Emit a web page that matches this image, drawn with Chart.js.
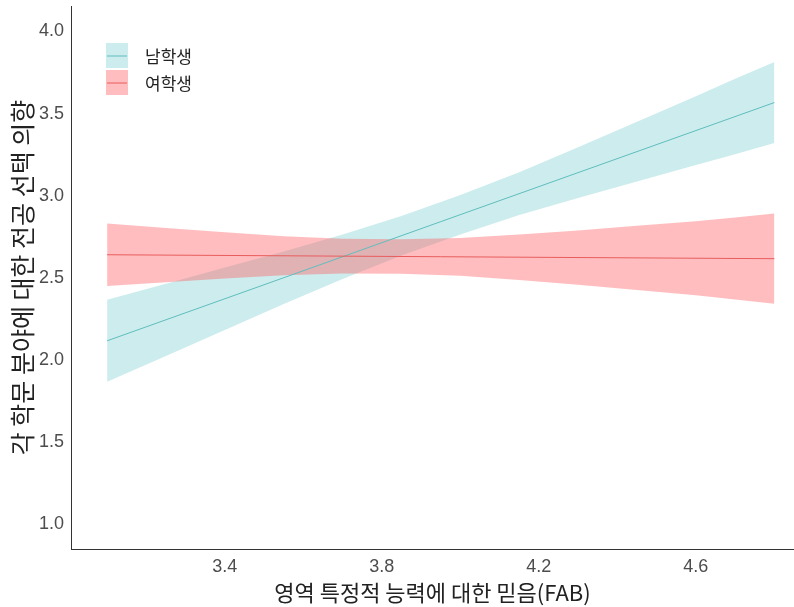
<!DOCTYPE html>
<html>
<head>
<meta charset="utf-8">
<script src="https://cdn.jsdelivr.net/npm/chart.js@4.4.1/dist/chart.umd.min.js"></script>
<style>
  html, body { margin: 0; padding: 0; background: #ffffff; overflow: hidden; }
  #wrap { width: 794px; height: 607px; position: relative; }
</style>
</head>
<body>
<div id="wrap"><canvas id="c" width="794" height="607"></canvas></div>
<script>
// Predicted major-choice intention by FAB, with confidence bands
const seriesNames = ['남학생', '여학생'];

const xTicks = [3.4, 3.8, 4.2, 4.6];
const yTicks = [1.0, 1.5, 2.0, 2.5, 3.0, 3.5, 4.0];

// FAB positions where the band edges are given
const fab = [3.1, 3.25, 3.4, 3.55, 3.7, 3.85, 4.0, 4.15, 4.3, 4.45, 4.6, 4.7, 4.8];

// 남학생: fitted line end points and band edges
const maleFitX = [3.1, 4.8];
const maleFit = [2.116, 3.567];
const maleUpper = [2.366, 2.464, 2.562, 2.660, 2.763, 2.876, 3.004, 3.142, 3.295, 3.450, 3.606, 3.712, 3.814];
const maleLower = [1.866, 2.024, 2.182, 2.340, 2.493, 2.636, 2.764, 2.882, 2.985, 3.086, 3.186, 3.252, 3.320];

// 여학생: fitted line end points and band edges
const femaleFitX = [3.1, 4.8];
const femaleFit = [2.640, 2.616];
const femaleUpper = [2.830, 2.803, 2.777, 2.752, 2.738, 2.734, 2.742, 2.763, 2.788, 2.816, 2.844, 2.867, 2.891];
const femaleLower = [2.450, 2.473, 2.495, 2.515, 2.526, 2.524, 2.512, 2.487, 2.458, 2.426, 2.394, 2.367, 2.341];

const teal = { line: '#5fbdbd', fill: 'rgba(0,160,165,0.2)' };
const red  = { line: '#e85c5c', fill: 'rgba(255,90,95,0.4)' };

const pts = (xs, ys) => xs.map((x, i) => ({ x: x, y: ys[i] }));

const bandStyle = { borderWidth: 0, pointRadius: 0, showLine: true, tension: 0 };

const datasets = [
  Object.assign({ label: seriesNames[1] + ' upper', data: pts(fab, femaleUpper), fill: '+1', backgroundColor: red.fill, borderColor: 'rgba(0,0,0,0)' }, bandStyle),
  Object.assign({ label: seriesNames[1] + ' lower', data: pts(fab, femaleLower), fill: false, borderColor: 'rgba(0,0,0,0)' }, bandStyle),
  Object.assign({ label: seriesNames[0] + ' upper', data: pts(fab, maleUpper), fill: '+1', backgroundColor: teal.fill, borderColor: 'rgba(0,0,0,0)' }, bandStyle),
  Object.assign({ label: seriesNames[0] + ' lower', data: pts(fab, maleLower), fill: false, borderColor: 'rgba(0,0,0,0)' }, bandStyle),
  { label: seriesNames[1], data: pts(femaleFitX, femaleFit), showLine: true, fill: false, borderColor: red.line, borderWidth: 1, pointRadius: 0 },
  { label: seriesNames[0], data: pts(maleFitX, maleFit), showLine: true, fill: false, borderColor: teal.line, borderWidth: 1, pointRadius: 0 }
];

// Legend drawn inside the plot panel, top-left
const insideLegend = {
  id: 'insideLegend',
  afterDraw(chart) {
    const ctx = chart.ctx;
    const items = [
      { text: seriesNames[0], fill: teal.fill, line: teal.line },
      { text: seriesNames[1], fill: red.fill, line: red.line }
    ];
    const x0 = 106, y0 = 43, w = 22, h = 25, gap = 2;
    ctx.save();
    items.forEach((it, i) => {
      const y = y0 + i * (h + gap);
      ctx.fillStyle = it.fill;
      ctx.fillRect(x0, y, w, h);
      ctx.strokeStyle = it.line;
      ctx.lineWidth = 1;
      ctx.beginPath();
      ctx.moveTo(x0 + 1, y + h / 2 + 0.5);
      ctx.lineTo(x0 + w - 1, y + h / 2 + 0.5);
      ctx.stroke();
      ctx.fillStyle = '#222222';
      ctx.font = '17px "Noto Sans CJK KR", "Liberation Sans", sans-serif';
      ctx.textBaseline = 'middle';
      ctx.textAlign = 'left';
      ctx.fillText(it.text, 145, y + h / 2 + 1);
    });
    ctx.restore();
  }
};

const tickFont = { family: '"Liberation Sans", Arial, sans-serif', size: 18 };
const titleFamily = '"Noto Sans CJK KR", "Liberation Sans", sans-serif';

new Chart(document.getElementById('c'), {
  type: 'scatter',
  data: { datasets: datasets },
  options: {
    responsive: false,
    animation: false,
    layout: { padding: { top: 6, right: 0, left: 0, bottom: 0 } },
    plugins: {
      legend: { display: false },
      tooltip: { enabled: false },
      filler: { drawTime: 'beforeDatasetsDraw' }
    },
    scales: {
      x: {
        type: 'linear',
        min: 3.008,
        max: 4.85,
        afterBuildTicks(scale) { scale.ticks = xTicks.map(v => ({ value: v })); },
        afterFit(scale) { scale.height = 58; scale.paddingLeft = 0; scale.paddingRight = 0; },
        grid: { display: false, drawOnChartArea: false, drawTicks: true, tickLength: 5, tickColor: '#333333' },
        border: { display: true, color: '#333333', width: 1 },
        ticks: { color: '#4d4d4d', font: tickFont, padding: 2, maxRotation: 0, callback: v => v.toFixed(1) },
        title: { display: true, text: '영역 특정적 능력에 대한 믿음(FAB)', color: '#222222', font: { family: titleFamily, size: 22 }, padding: { top: 0, bottom: 1 } }
      },
      y: {
        type: 'linear',
        min: 0.848,
        max: 4.155,
        afterBuildTicks(scale) { scale.ticks = yTicks.map(v => ({ value: v })); },
        afterFit(scale) { scale.width = 71; scale.paddingTop = 0; scale.paddingBottom = 0; },
        grid: { display: false, drawOnChartArea: false, drawTicks: true, tickLength: 5, tickColor: '#333333' },
        border: { display: true, color: '#333333', width: 1 },
        ticks: { color: '#4d4d4d', font: tickFont, padding: 2, callback: v => v.toFixed(1) },
        title: { display: true, text: '각 학문 분야에 대한 전공 선택 의향', color: '#222222', font: { family: titleFamily, size: 25 }, padding: { top: 7, bottom: 0 } }
      }
    }
  },
  plugins: [insideLegend]
});
</script>
</body>
</html>
